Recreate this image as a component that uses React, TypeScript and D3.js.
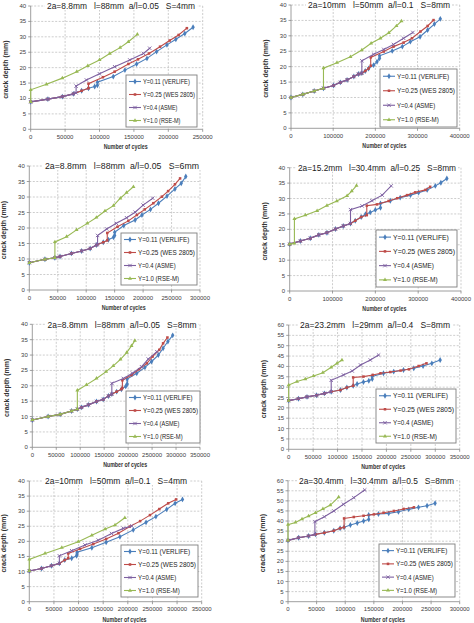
import React from 'react';
import * as d3 from 'd3';

type Pt = [number, number];

const seriesNames = ['Y=0.11 (VERLIFE)', 'Y=0.25 (WES 2805)', 'Y=0.4 (ASME)', 'Y=1.0 (RSE-M)'];
const seriesColors = ['#4A7EBB', '#BE4B48', '#7D60A0', '#98B954'];

// 2a=8.8mm, l=88mm, a/l=0.05, S=4mm
const a1Verlife: Pt[] = [[0, 8.9], [25000, 9.8], [46000, 10.6], [62000, 11.5], [74000, 12.5], [84000, 13.3], [93000, 13.9], [97000, 14.3], [97000, 15.3], [120000, 17.1], [137000, 19.2], [154000, 21.2], [169000, 23.0], [183000, 25.2], [198000, 27.4], [211000, 29.2], [224000, 31.1], [236000, 33.1]];
const a1Wes: Pt[] = [[0, 8.9], [25000, 9.8], [46000, 10.6], [62000, 11.5], [74000, 12.5], [84000, 13.3], [84000, 14.8], [105000, 16.9], [122000, 18.7], [142000, 21.2], [156000, 22.7], [172000, 24.6], [188000, 26.8], [202000, 28.8], [215000, 30.6], [227000, 32.8]];
const a1Asme: Pt[] = [[0, 8.9], [25000, 9.8], [46000, 10.6], [62000, 11.5], [66000, 11.8], [66000, 14.0], [81000, 16.0], [100000, 18.0], [122000, 20.3], [144000, 22.5], [164000, 24.6], [173000, 26.3]];
const a1Rsem: Pt[] = [[0, 8.9], [0, 12.8], [23000, 14.6], [46000, 16.6], [67000, 18.7], [83000, 20.6], [100000, 22.5], [115000, 24.6], [130000, 26.5], [142000, 28.4], [155000, 30.8]];

// 2a=10mm, l=50mm, a/l=0.1, S=8mm
const b1Verlife: Pt[] = [[0, 10.0], [28000, 11.0], [55000, 12.1], [77000, 13.0], [101000, 13.9], [117000, 14.9], [133000, 15.7], [149000, 16.8], [160000, 17.6], [168000, 17.9], [176000, 18.6], [184000, 19.4], [196000, 20.5], [204000, 21.6], [210000, 22.7], [210000, 23.5], [240000, 25.1], [264000, 26.5], [283000, 28.1], [306000, 29.7], [324000, 31.9], [340000, 33.8], [354000, 35.5]];
const b1Wes: Pt[] = [[0, 10.0], [28000, 11.0], [55000, 12.1], [77000, 13.0], [101000, 13.9], [117000, 14.9], [133000, 15.7], [149000, 16.8], [160000, 17.6], [168000, 17.9], [176000, 18.6], [184000, 19.4], [189000, 20.3], [189000, 23.0], [220000, 24.9], [243000, 26.5], [267000, 27.8], [287000, 29.2], [307000, 31.4], [324000, 33.2], [338000, 35.1]];
const b1Asme: Pt[] = [[0, 10.0], [28000, 11.0], [55000, 12.1], [77000, 13.0], [101000, 13.9], [117000, 14.9], [133000, 15.7], [149000, 16.8], [160000, 17.6], [168000, 17.9], [168000, 21.9], [196000, 24.0], [220000, 25.6], [243000, 27.2], [267000, 29.2], [289000, 31.1]];
const b1Rsem: Pt[] = [[0, 10.0], [28000, 11.0], [55000, 12.1], [77000, 13.0], [77000, 19.5], [109000, 21.3], [141000, 23.2], [168000, 25.4], [190000, 27.6], [212000, 29.2], [232000, 31.0], [250000, 33.2], [262000, 34.8]];

// 2a=8.8mm, l=88mm, a/l=0.05, S=6mm
const a2Verlife: Pt[] = [[0, 8.8], [27500, 9.9], [45000, 10.4], [54000, 10.8], [74000, 11.8], [92000, 12.6], [107000, 13.4], [118000, 14.5], [130000, 15.4], [139000, 16.2], [148000, 17.0], [150000, 17.6], [150000, 18.6], [166000, 20.8], [186000, 22.6], [198000, 24.2], [213000, 26.0], [227000, 28.0], [242000, 30.3], [256000, 32.6], [267000, 34.4], [275000, 36.6]];
const a2Wes: Pt[] = [[0, 8.8], [27500, 9.9], [45000, 10.4], [54000, 10.8], [74000, 11.8], [92000, 12.6], [107000, 13.4], [118000, 14.5], [130000, 15.4], [137000, 16.0], [137000, 18.4], [155000, 20.4], [174000, 22.3], [189000, 24.2], [203000, 26.0], [218000, 28.0], [233000, 30.1], [244000, 31.9], [256000, 34.1], [265000, 36.0]];
const a2Asme: Pt[] = [[0, 8.8], [27500, 9.9], [45000, 10.4], [54000, 10.8], [74000, 11.8], [92000, 12.6], [107000, 13.4], [118000, 14.5], [120000, 14.7], [120000, 17.6], [136000, 19.7], [153000, 21.5], [171000, 23.3], [186000, 25.1], [200000, 27.4], [217000, 29.6]];
const a2Rsem: Pt[] = [[0, 8.8], [27500, 9.9], [45000, 10.4], [45000, 15.5], [65600, 17.2], [83000, 19.4], [102000, 21.5], [118000, 23.4], [133000, 25.5], [148000, 27.2], [160000, 29.6], [171000, 31.4], [183000, 33.3]];

// 2a=15.2mm, l=30.4mm, a/l=0.25, S=8mm
const b2Verlife: Pt[] = [[0, 15.2], [25000, 16.2], [48000, 17.1], [68000, 18.2], [87000, 18.9], [107000, 20.1], [125000, 21.1], [142000, 21.9], [153000, 22.8], [167000, 24.0], [177000, 24.9], [188000, 25.5], [200000, 26.3], [212000, 27.0], [212000, 28.4], [235000, 29.3], [258000, 30.3], [282000, 31.1], [301000, 31.9], [321000, 32.8], [340000, 34.1], [353000, 35.1], [367000, 36.5]];
const b2Wes: Pt[] = [[0, 15.2], [25000, 16.2], [48000, 17.1], [68000, 18.2], [87000, 18.9], [107000, 20.1], [125000, 21.1], [142000, 21.9], [153000, 22.8], [167000, 24.0], [180000, 24.6], [180000, 27.7], [204000, 28.1], [231000, 29.2], [251000, 30.1], [274000, 31.1], [293000, 32.0], [317000, 32.8], [328000, 33.8]];
const b2Asme: Pt[] = [[0, 15.2], [25000, 16.2], [48000, 17.1], [68000, 18.2], [87000, 18.9], [107000, 20.1], [125000, 21.1], [142000, 21.9], [142000, 26.4], [169000, 27.6], [192000, 29.3], [216000, 31.1], [237000, 34.1]];
const b2Rsem: Pt[] = [[0, 15.2], [11000, 15.5], [11000, 23.4], [36600, 24.6], [64000, 26.0], [87000, 27.7], [110000, 29.2], [134000, 30.9], [145000, 32.4], [156000, 34.2]];

// 2a=8.8mm, l=88mm, a/l=0.05, S=8mm
const a3Verlife: Pt[] = [[0, 8.9], [33000, 10.0], [58000, 10.7], [82000, 11.8], [94000, 12.4], [103000, 13.0], [117000, 13.8], [134000, 14.9], [148000, 15.6], [159000, 16.7], [166000, 17.3], [176000, 18.1], [186000, 18.9], [195000, 19.8], [198000, 20.6], [198000, 22.2], [218000, 24.1], [235000, 26.0], [249000, 27.9], [263000, 30.0], [273000, 32.2], [283000, 34.4], [293000, 36.4]];
const a3Wes: Pt[] = [[0, 8.9], [33000, 10.0], [58000, 10.7], [82000, 11.8], [94000, 12.4], [103000, 13.0], [117000, 13.8], [134000, 14.9], [148000, 15.6], [159000, 16.7], [166000, 17.3], [176000, 18.1], [186000, 18.9], [188000, 19.3], [188000, 21.8], [207000, 23.5], [223000, 25.4], [239000, 27.3], [251000, 29.5], [265000, 31.7], [273000, 33.8], [282000, 35.7]];
const a3Asme: Pt[] = [[0, 8.9], [33000, 10.0], [58000, 10.7], [82000, 11.8], [94000, 12.4], [103000, 13.0], [117000, 13.8], [134000, 14.9], [148000, 15.6], [159000, 16.7], [166000, 17.3], [166000, 20.8], [190000, 22.4], [209000, 24.1], [228000, 26.2], [242000, 28.7], [260000, 31.1]];
const a3Rsem: Pt[] = [[0, 8.9], [33000, 10.0], [58000, 10.7], [82000, 11.8], [94000, 12.4], [94000, 18.5], [113000, 20.3], [134000, 22.4], [154000, 24.6], [169000, 26.5], [184000, 28.6], [197000, 30.8], [207000, 33.0], [214000, 34.7]];

// 2a=23.2mm, l=29mm, a/l=0.4, S=8mm
const b3Verlife: Pt[] = [[0, 23.5], [20000, 24.4], [37500, 25.3], [57000, 26.1], [73000, 27.0], [87000, 27.8], [106000, 28.6], [119000, 29.8], [132000, 30.7], [140000, 31.5], [153000, 32.5], [164000, 33.1], [171000, 33.9], [171000, 35.2], [194000, 36.7], [215000, 37.5], [235000, 38.3], [256000, 39.1], [275000, 40.2], [293000, 41.5], [310000, 43.1]];
const b3Wes: Pt[] = [[0, 23.5], [20000, 24.4], [37500, 25.3], [57000, 26.1], [73000, 27.0], [87000, 27.8], [106000, 28.6], [119000, 29.8], [132000, 30.7], [132000, 34.7], [153000, 35.1], [172000, 35.9], [188000, 36.7], [208000, 37.3], [229000, 38.0], [246000, 38.6], [266000, 40.2], [282000, 41.5]];
const b3Asme: Pt[] = [[0, 23.5], [20000, 24.4], [37500, 25.3], [57000, 26.1], [73000, 27.0], [87000, 27.8], [87000, 33.3], [112000, 35.9], [130000, 37.8], [147000, 40.7], [167000, 43.1], [184000, 45.5]];
const b3Rsem: Pt[] = [[0, 23.5], [0, 31.0], [17000, 32.7], [34000, 33.9], [51000, 35.4], [70000, 37.0], [87000, 39.6], [99000, 41.5], [109000, 43.1]];

// 2a=10mm, l=50mm, a/l=0.1, S=4mm
const a4Verlife: Pt[] = [[0, 10.2], [25000, 11.0], [45000, 11.9], [61000, 12.7], [72000, 13.8], [86000, 14.4], [96000, 15.2], [97000, 15.8], [97000, 16.4], [127000, 17.9], [156000, 19.7], [184000, 21.5], [211000, 23.8], [237000, 26.3], [257000, 28.2], [279000, 30.6], [296000, 32.6], [311000, 33.9]];
const a4Wes: Pt[] = [[0, 10.2], [25000, 11.0], [45000, 11.9], [61000, 12.7], [72000, 13.8], [79000, 14.4], [79000, 16.0], [103000, 17.5], [130000, 19.1], [156000, 20.8], [181000, 22.7], [204000, 24.9], [225000, 26.7], [245000, 28.7], [264000, 30.7], [282000, 32.6], [298000, 33.9]];
const a4Asme: Pt[] = [[0, 10.2], [25000, 11.0], [45000, 11.9], [61000, 12.7], [61000, 15.2], [86000, 16.9], [113000, 18.8], [140000, 20.4], [167000, 22.6], [191000, 24.3], [208000, 25.1]];
const a4Rsem: Pt[] = [[0, 10.2], [0, 14.0], [32000, 16.0], [66000, 17.9], [99500, 19.9], [127000, 22.0], [154000, 24.1], [174000, 25.4], [194000, 27.8]];

// 2a=30.4mm, l=30.4mm, a/l=0.5, S=8mm
const b4Verlife: Pt[] = [[0, 30.4], [18600, 31.7], [36000, 32.6], [48000, 33.4], [63500, 34.2], [80000, 35.2], [91000, 36.4], [98000, 36.9], [109000, 38.0], [121000, 39.0], [132000, 40.0], [141000, 40.8], [141000, 43.0], [158000, 43.5], [176000, 43.8], [193000, 44.6], [211000, 45.8], [228000, 46.8], [243000, 47.6], [257000, 48.8]];
const b4Wes: Pt[] = [[0, 30.4], [18600, 31.7], [36000, 32.6], [48000, 33.4], [63500, 34.2], [80000, 35.2], [91000, 36.4], [98000, 36.9], [98000, 41.3], [115000, 42.0], [132000, 42.6], [150000, 43.3], [167000, 44.1], [185000, 45.0], [202000, 46.0], [220000, 46.8]];
const b4Asme: Pt[] = [[0, 30.4], [18600, 31.7], [36000, 32.6], [47000, 33.4], [47000, 39.7], [63500, 42.1], [80000, 45.0], [97000, 48.3], [115000, 51.6], [134000, 55.4]];
const b4Rsem: Pt[] = [[0, 30.4], [0, 38.2], [13000, 39.3], [24500, 41.0], [36000, 42.5], [48000, 44.1], [61000, 46.0], [74000, 47.9], [88500, 51.9]];

const panelTitles = [
  '2a=8.8mm   l=88mm  a/l=0.05   S=4mm',
  '2a=10mm   l=50mm  a/l=0.1   S=8mm',
  '2a=8.8mm   l=88mm  a/l=0.05   S=6mm',
  '2a=15.2mm   l=30.4mm  a/l=0.25   S=8mm',
  '2a=8.8mm   l=88mm  a/l=0.05   S=8mm',
  '2a=23.2mm   l=29mm  a/l=0.4   S=8mm',
  '2a=10mm   l=50mm  a/l=0.1   S=4mm',
  '2a=30.4mm   l=30.4mm  a/l=0.5   S=8mm',
];
const xMaxima = [250000, 400000, 300000, 400000, 350000, 350000, 350000, 300000];
const xSteps = [50000, 100000, 50000, 100000, 50000, 50000, 50000, 50000];
const yMaxima = [40, 40, 40, 40, 40, 60, 40, 60];
const ySteps = [5, 5, 5, 5, 5, 5, 5, 5];
const panelSeries: Pt[][][] = [
  [a1Verlife, a1Wes, a1Asme, a1Rsem],
  [b1Verlife, b1Wes, b1Asme, b1Rsem],
  [a2Verlife, a2Wes, a2Asme, a2Rsem],
  [b2Verlife, b2Wes, b2Asme, b2Rsem],
  [a3Verlife, a3Wes, a3Asme, a3Rsem],
  [b3Verlife, b3Wes, b3Asme, b3Rsem],
  [a4Verlife, a4Wes, a4Asme, a4Rsem],
  [b4Verlife, b4Wes, b4Asme, b4Rsem],
];

// Layout of each chart: plot rectangle, title placement and legend box (pixels)
const plotRects = [
  { left: 30.7, right: 202.7, top: 6, bottom: 129.3 },
  { left: 291, right: 459.7, top: 5, bottom: 128.3 },
  { left: 29.3, right: 200, top: 166, bottom: 290 },
  { left: 289.7, right: 461, top: 167.7, bottom: 291 },
  { left: 32.3, right: 200, top: 324.3, bottom: 447.3 },
  { left: 288.7, right: 459.7, top: 325, bottom: 449.3 },
  { left: 29.3, right: 201.7, top: 481, bottom: 601.7 },
  { left: 288, right: 459.7, top: 480.7, bottom: 601.7 },
];
const titleBoxes = [
  { cx: 121, w: 148 },
  { cx: 379, w: 142 },
  { cx: 122, w: 154 },
  { cx: 377, w: 158 },
  { cx: 122, w: 149 },
  { cx: 375, w: 150 },
  { cx: 116, w: 142 },
  { cx: 376.5, w: 155 },
];
const legendRects = [
  { x: 126, y: 75, w: 71, h: 52 },
  { x: 380, y: 69, w: 77, h: 58 },
  { x: 121, y: 233, w: 76, h: 52 },
  { x: 376, y: 230, w: 81, h: 57 },
  { x: 126, y: 391, w: 74, h: 52 },
  { x: 376, y: 389, w: 80, h: 54 },
  { x: 121, y: 545, w: 77, h: 52 },
  { x: 379, y: 544, w: 76, h: 53 },
];
// relative widths of the legend labels (longest = 1)
const legendLabelShare = [0.9, 1.0, 0.66, 0.72];

const FONT = "'Liberation Sans', Arial, sans-serif";
const symbolTypes = [d3.symbolDiamond, d3.symbolSquare, d3.symbolTimes, d3.symbolTriangle];
const symbolSizes = [10, 6.5, 9, 7];

function Marker({ k, cx, cy }: { k: number; cx: number; cy: number }) {
  const path = d3.symbol().type(symbolTypes[k]).size(symbolSizes[k])() || '';
  const stroked = k === 2;
  return (
    <path
      d={path}
      transform={`translate(${cx},${cy})`}
      fill={stroked ? 'none' : seriesColors[k]}
      stroke={stroked ? seriesColors[k] : 'none'}
      strokeWidth={stroked ? 0.9 : 0}
    />
  );
}

function Panel({ i }: { i: number }) {
  const r = plotRects[i];
  const lg = legendRects[i];
  const tb = titleBoxes[i];
  const x = d3.scaleLinear().domain([0, xMaxima[i]]).range([r.left, r.right]);
  const y = d3.scaleLinear().domain([0, yMaxima[i]]).range([r.bottom, r.top]);
  const xTicks = d3.range(0, xMaxima[i] + 1, xSteps[i]);
  const yTicks = d3.range(0, yMaxima[i] + 0.001, ySteps[i]);
  const line = d3.line<Pt>().x((d) => x(d[0])).y((d) => y(d[1]));
  const cx = (r.left + r.right) / 2;
  const cy = (r.top + r.bottom) / 2;
  const rowH = lg.h / 4;
  const longest = lg.w - 19;
  return (
    <g>
      {/* grid */}
      {yTicks.slice(1).map((t) => (
        <line key={'gy' + t} x1={r.left} x2={r.right} y1={y(t)} y2={y(t)} stroke="#B8B8B8" strokeWidth={0.7} strokeDasharray="2,1.5" />
      ))}
      {xTicks.slice(1).map((t) => (
        <line key={'gx' + t} x1={x(t)} x2={x(t)} y1={r.top} y2={r.bottom} stroke="#B8B8B8" strokeWidth={0.7} strokeDasharray="2,1.5" />
      ))}
      {/* axes */}
      <line x1={r.left} x2={r.left} y1={r.top} y2={r.bottom} stroke="#868686" strokeWidth={0.8} />
      <line x1={r.left} x2={r.right} y1={r.bottom} y2={r.bottom} stroke="#868686" strokeWidth={0.8} />
      {yTicks.map((t) => (
        <g key={'ty' + t}>
          <line x1={r.left - 2.5} x2={r.left} y1={y(t)} y2={y(t)} stroke="#868686" strokeWidth={0.8} />
          <text x={r.left - 4.5} y={y(t) + 2} fontSize={6} fill="#404040" textAnchor="end" fontFamily={FONT}>{t}</text>
        </g>
      ))}
      {xTicks.map((t) => (
        <g key={'tx' + t}>
          <line x1={x(t)} x2={x(t)} y1={r.bottom} y2={r.bottom + 2.5} stroke="#868686" strokeWidth={0.8} />
          <text x={x(t)} y={r.bottom + 9.5} fontSize={6} fill="#404040" textAnchor="middle" fontFamily={FONT}>{t}</text>
        </g>
      ))}
      {/* axis titles */}
      <text x={cx + 9} y={r.bottom + 20} fontSize={7} fontWeight="bold" fill="#333" textAnchor="middle" fontFamily={FONT} textLength={44} lengthAdjust="spacingAndGlyphs">Number of cycles</text>
      <text transform={`translate(${r.left - 23},${cy + 2}) rotate(-90)`} fontSize={7} fontWeight="bold" fill="#333" textAnchor="middle" fontFamily={FONT}>crack depth (mm)</text>
      {/* series */}
      {panelSeries[i].map((s, k) => (
        <g key={'s' + k}>
          <path d={line(s) || ''} fill="none" stroke={seriesColors[k]} strokeWidth={1.1} />
          {s.map((p, j) => (
            <Marker key={j} k={k} cx={x(p[0])} cy={y(p[1])} />
          ))}
        </g>
      ))}
      {/* legend */}
      <rect x={lg.x} y={lg.y} width={lg.w} height={lg.h} fill="#fff" stroke="#7F7F7F" strokeWidth={0.9} />
      {seriesNames.map((name, k) => {
        const ly = lg.y + rowH * (k + 0.5);
        return (
          <g key={'l' + k}>
            <line x1={lg.x + 3} x2={lg.x + 15} y1={ly} y2={ly} stroke={seriesColors[k]} strokeWidth={1.1} />
            <Marker k={k} cx={lg.x + 9} cy={ly} />
            <text x={lg.x + 17} y={ly + 2.5} fontSize={7.2} fill="#222" fontFamily={FONT} textLength={longest * legendLabelShare[k]} lengthAdjust="spacingAndGlyphs">{name}</text>
          </g>
        );
      })}
      {/* title */}
      <rect x={tb.cx - tb.w / 2 - 2} y={r.top - 4} width={tb.w + 4} height={8} fill="#fff" />
      <text x={tb.cx} y={r.top + 3.2} fontSize={9} fill="#222" textAnchor="middle" fontFamily={FONT} style={{ whiteSpace: 'pre' }} textLength={tb.w} lengthAdjust="spacingAndGlyphs">{panelTitles[i]}</text>
    </g>
  );
}

export default function App() {
  return (
    <svg width={474} height={623} viewBox="0 0 474 623" style={{ position: 'absolute', left: 0, top: 0, background: '#fff' }}>
      <rect x={0} y={0} width={474} height={623} fill="#fff" />
      {panelTitles.map((_, i) => (
        <Panel key={i} i={i} />
      ))}
    </svg>
  );
}
